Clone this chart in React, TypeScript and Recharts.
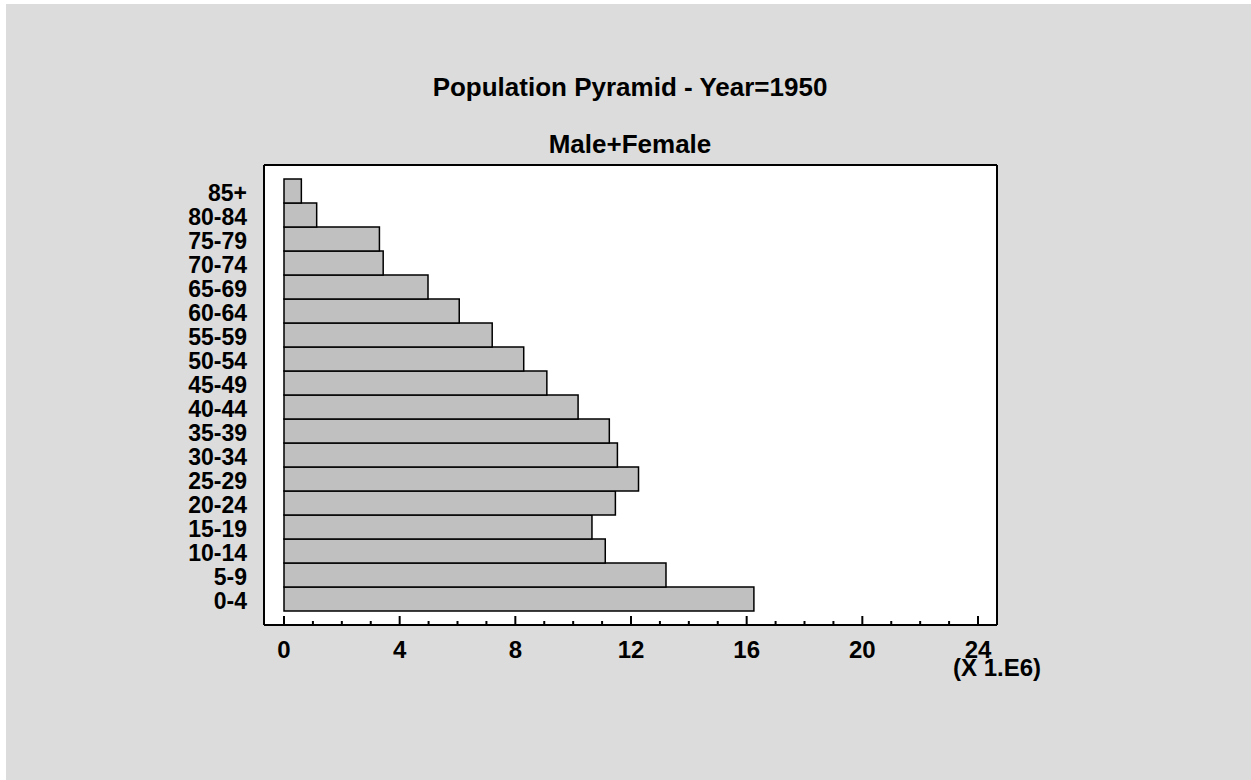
import React from 'react';
import { BarChart, Bar, XAxis, YAxis, CartesianGrid } from 'recharts';

// age groups, youngest first (drawn bottom-up via reversed axis)
const AGE_GROUPS = [
  '0-4', '5-9', '10-14', '15-19', '20-24', '25-29', '30-34', '35-39', '40-44',
  '45-49', '50-54', '55-59', '60-64', '65-69', '70-74', '75-79', '80-84', '85+',
];

// population, units of 1.E6
const POPULATION = [
  16.25, 13.21, 11.11, 10.65, 11.46, 12.26, 11.53, 11.25, 10.17,
  9.09, 8.29, 7.2, 6.06, 4.98, 3.43, 3.3, 1.13, 0.6,
];

const X_TICKS = [0, 1, 2, 3, 4, 5, 6, 7, 8, 9, 10, 11, 12, 13, 14, 15, 16, 17, 18, 19, 20, 21, 22, 23, 24];
const X_LABELS = [0, 4, 8, 12, 16, 20, 24];

const data = AGE_GROUPS.map((age, i) => ({ age, pop: POPULATION[i] }));

const FONT = '"Liberation Sans", Arial, sans-serif';

function BottomTick(props: any) {
  const { x, y, payload } = props;
  const major = X_LABELS.includes(payload.value);
  return (
    <g>
      <line x1={x} x2={x} y1={y} y2={y - (major ? 9 : 4)} stroke="#000" strokeWidth={2} />
      {major && (
        <text x={x} y={y + 33} textAnchor="middle" fontFamily={FONT} fontWeight="bold" fontSize={24} fill="#000">
          {payload.value}
        </text>
      )}
    </g>
  );
}

function TopTick(props: any) {
  const { x, y, payload } = props;
  const major = X_LABELS.includes(payload.value);
  return <line x1={x} x2={x} y1={y} y2={y + (major ? 9 : 4)} stroke="#000" strokeWidth={2} />;
}

function AgeTick(props: any) {
  const { x, y, payload } = props;
  return (
    <text x={x - 17} y={y + 10} textAnchor="end" fontFamily={FONT} fontWeight="bold" fontSize={23} fill="#000">
      {payload.value}
    </text>
  );
}

export default function App() {
  const frame = { stroke: '#000', strokeWidth: 2 };
  return (
    <div style={{ position: 'fixed', left: 0, top: 0, width: 1251, height: 780, background: '#fff' }}>
      <div style={{ position: 'absolute', left: 6, top: 4, width: 1245, height: 776, background: '#dcdcdc' }} />
      <div style={{ position: 'absolute', left: 0, top: 0 }}>
        <BarChart
          width={1251}
          height={780}
          data={data}
          layout="vertical"
          barCategoryGap={0}
          barGap={0}
          margin={{ top: 164, right: 253, bottom: 154, left: 0 }}
        >
          <CartesianGrid horizontal={false} vertical={false} fill="#fff" />
          <XAxis
            type="number"
            domain={[0, 24]}
            ticks={X_TICKS}
            interval={0}
            padding={{ left: 20, right: 19 }}
            height={1}
            tickSize={0}
            tickMargin={0}
            tickLine={false}
            axisLine={frame}
            tick={<BottomTick />}
          />
          <XAxis
            xAxisId="top"
            orientation="top"
            type="number"
            domain={[0, 24]}
            ticks={X_TICKS}
            interval={0}
            padding={{ left: 20, right: 19 }}
            height={1}
            tickSize={0}
            tickMargin={0}
            tickLine={false}
            axisLine={frame}
            tick={<TopTick />}
          />
          <YAxis
            type="category"
            dataKey="age"
            reversed
            interval={0}
            width={264}
            padding={{ top: 14, bottom: 14 }}
            tickSize={0}
            tickMargin={0}
            tickLine={false}
            axisLine={frame}
            tick={<AgeTick />}
          />
          <YAxis
            yAxisId="right"
            orientation="right"
            type="category"
            dataKey="age"
            reversed
            width={1}
            padding={{ top: 14, bottom: 14 }}
            tick={false}
            tickLine={false}
            axisLine={frame}
          />
          <Bar dataKey="pop" fill="#c0c0c0" stroke="#000" strokeWidth={1.5} isAnimationActive={false} />
        </BarChart>
      </div>
      <svg width={1251} height={780} style={{ position: 'absolute', left: 0, top: 0, pointerEvents: 'none' }}>
        <text x={630} y={96} textAnchor="middle" fontFamily={FONT} fontWeight="bold" fontSize={26} fill="#000">
          Population Pyramid - Year=1950
        </text>
        <text x={630} y={153} textAnchor="middle" fontFamily={FONT} fontWeight="bold" fontSize={26} fill="#000">
          Male+Female
        </text>
        <text x={997} y={676} textAnchor="middle" fontFamily={FONT} fontWeight="bold" fontSize={24} fill="#000">
          (X 1.E6)
        </text>
      </svg>
    </div>
  );
}
